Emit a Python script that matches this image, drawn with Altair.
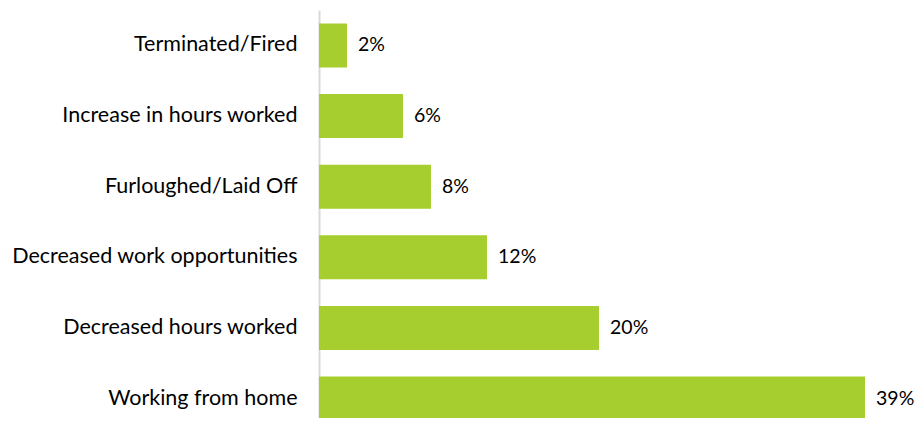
import altair as alt
import pandas as pd

categories = ["Terminated/Fired", "Increase in hours worked", "Furloughed/Laid Off",
              "Decreased work opportunities", "Decreased hours worked", "Working from home"]
values = [2, 6, 8, 12, 20, 39]
labels = ["2%", "6%", "8%", "12%", "20%", "39%"]

df = pd.DataFrame({"cat": categories, "val": values, "lab": labels})

FONT = "Lato"
FS = 21.5

y = alt.Y("cat:N", sort=categories, title=None,
          scale=alt.Scale(paddingInner=0.377, paddingOuter=0.19),
          axis=alt.Axis(labelFont=FONT, labelFontSize=FS, labelColor="#000000",
                        labelPadding=22, ticks=False, domainColor="#D9D9D9",
                        domainWidth=2, labelLimit=400))
x = alt.X("val:Q", title=None, scale=alt.Scale(domain=[0, 42.64], nice=False, zero=True),
          axis=None)

bars = alt.Chart(df).mark_bar(color="#A6CE2E").encode(x=x, y=y)
text = alt.Chart(df).mark_text(align="left", baseline="middle", dx=11, font=FONT,
                               fontSize=19.5, color="#000000").encode(
    x=x, y=alt.Y("cat:N", sort=categories), text="lab:N")

chart = alt.layer(bars, text).properties(
    width=597, height=424,
    autosize=alt.AutoSizeParams(type="none"),
    padding={"left": 311, "top": 2, "right": 0, "bottom": -16},
).configure_view(stroke=None)

chart.save("out.html", embed_options={"renderer": "svg", "actions": False})
